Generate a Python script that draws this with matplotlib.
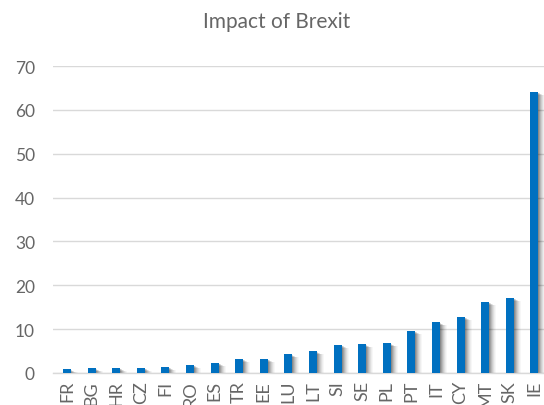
import matplotlib
matplotlib.use("Agg")
import matplotlib.pyplot as plt
import matplotlib.transforms as mtransforms
import numpy as np

# data
countries = ["FR", "BG", "HR", "CZ", "FI", "RO", "ES", "TR", "EE", "LU",
             "LT", "SI", "SE", "PL", "PT", "IT", "CY", "MT", "SK", "IE"]
impact = [0.9, 1.1, 1.2, 1.2, 1.4, 1.9, 2.3, 3.3, 3.3, 4.3,
          5.0, 6.4, 6.5, 6.8, 9.6, 11.6, 12.8, 16.2, 17.2, 64.1]
yticks = [0, 10, 20, 30, 40, 50, 60, 70]

plt.rcParams['font.family'] = ['Lato', 'DejaVu Sans']
text_col = "#666666"

fig = plt.figure(figsize=(5.44, 4.06), dpi=100)
ax = fig.add_axes([53 / 544, 32 / 406, 491 / 544, 307 / 406])

x = np.arange(len(countries))
w = 0.32

# soft shadow: a few faint offset copies behind the bars
for dx, dy, a in [(1, -1, 0.14), (2, -1.5, 0.12), (3, -2, 0.10), (4, -2.5, 0.08),
                  (5, -3, 0.06), (6, -3, 0.04), (7, -3, 0.03)]:
    off = mtransforms.ScaledTranslation(dx / 100, dy / 100, fig.dpi_scale_trans)
    ax.bar(x, impact, width=w, color="#000000", alpha=a, linewidth=0,
           transform=ax.transData + off, zorder=2)

ax.bar(x, impact, width=w, color="#0070c0", linewidth=0, zorder=3)

ax.set_xlim(-0.57, 19.39)
ax.set_ylim(0, 70)
ax.set_yticks(yticks)
ax.set_xticks(x)
ax.set_xticklabels(countries, rotation=90, va="top")
ax.tick_params(axis="y", length=0, pad=13, labelsize=12.5, labelcolor=text_col)
ax.tick_params(axis="x", length=0, pad=5, labelsize=13, labelcolor=text_col)

ax.grid(axis="y", color="#d9d9d9", linewidth=1, zorder=0)
ax.set_axisbelow(True)
for s in ["top", "right", "left"]:
    ax.spines[s].set_visible(False)
ax.spines["bottom"].set_color("#d9d9d9")
ax.spines["bottom"].set_linewidth(1)

fig.text(277 / 544, 1 - 22 / 406, "Impact of Brexit", ha="center", va="center",
         fontsize=15, color=text_col)

fig.savefig("out.png", dpi=100)
